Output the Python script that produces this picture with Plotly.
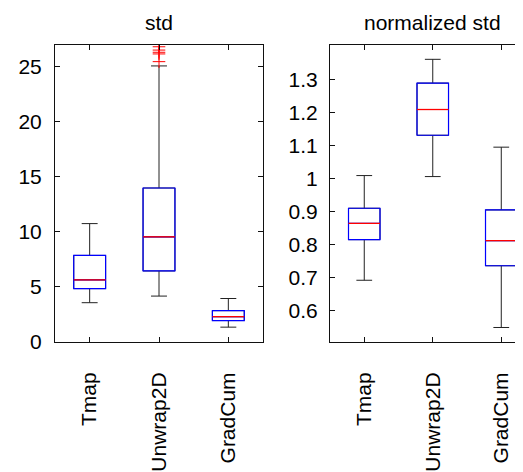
import plotly.graph_objects as go

categories = ["Tmap", "Unwrap2D", "GradCum"]
positions = [1, 2, 3]

# panel 1: std
std_low = [3.57, 4.17, 1.35]
std_q1 = [4.85, 6.45, 1.95]
std_med = [5.65, 9.55, 2.30]
std_q3 = [7.86, 13.98, 2.85]
std_high = [10.75, 25.06, 3.95]
std_outliers = [25.45, 26.15, 26.3, 26.5, 26.8]

# panel 2: normalized std
nstd_low = [0.692, 1.006, 0.549]
nstd_q1 = [0.815, 1.131, 0.736]
nstd_med = [0.864, 1.209, 0.812]
nstd_q3 = [0.910, 1.289, 0.905]
nstd_high = [1.009, 1.361, 1.095]

left_ticks = [0, 5, 10, 15, 20, 25]
right_ticks = [0.6, 0.7, 0.8, 0.9, 1.0, 1.1, 1.2, 1.3]
right_ticktext = ["0.6", "0.7", "0.8", "0.9", "1", "1.1", "1.2", "1.3"]

FONT = "Liberation Sans, Arial, Helvetica, sans-serif"
BW = 0.46

fig = go.Figure()


def add_panel(xa, ya, low, q1, med, q3, high):
    common = dict(x=positions, xaxis=xa, yaxis=ya, width=BW, whiskerwidth=0.5,
                  fillcolor="rgba(0,0,0,0)", showlegend=False, hoverinfo="skip",
                  boxpoints=False)
    # whiskers (black)
    fig.add_trace(go.Box(q1=q1, median=med, q3=q3, lowerfence=low, upperfence=high,
                         line=dict(color="#222222", width=1), **common))
    # box (blue)
    fig.add_trace(go.Box(q1=q1, median=med, q3=q3, lowerfence=q1, upperfence=q3,
                         line=dict(color="#0000ff", width=1.2), **common))
    # median (red)
    mx, my = [], []
    for p, m in zip(positions, med):
        mx += [p - BW / 2, p + BW / 2, None]
        my += [m, m, None]
    fig.add_trace(go.Scatter(x=mx, y=my, mode="lines", xaxis=xa, yaxis=ya,
                             line=dict(color="#ff0000", width=1.3),
                             showlegend=False, hoverinfo="skip"))


add_panel("x", "y", std_low, std_q1, std_med, std_q3, std_high)
add_panel("x2", "y2", nstd_low, nstd_q1, nstd_med, nstd_q3, nstd_high)

fig.add_trace(go.Scatter(x=[positions[1]] * len(std_outliers), y=std_outliers,
                         mode="markers", xaxis="x", yaxis="y", showlegend=False,
                         hoverinfo="skip",
                         marker=dict(symbol="cross-thin", size=9, color="red",
                                     line=dict(color="red", width=1))))

W, H = 523, 472
ydom = [(H - 342) / H, (H - 38) / H]

axis_common = dict(showline=True, linecolor="#111111", linewidth=1, ticks="inside",
                   ticklen=5, tickcolor="#111111", showgrid=False, zeroline=False,
                   tickfont=dict(family=FONT, size=21, color="black"))

fig.update_layout(
    width=W, height=H, margin=dict(l=0, r=0, t=0, b=0),
    paper_bgcolor="white", plot_bgcolor="white", boxmode="overlay",
    xaxis=dict(domain=[47 / W, 255 / W], range=[0.5, 3.5], anchor="y",
               mirror="ticks", tickangle=-90, ticklabelstandoff=21,
               tickvals=positions, ticktext=categories, **axis_common),
    yaxis=dict(domain=ydom, range=[0, 26.95], anchor="x", mirror="ticks",
               tickvals=left_ticks, ticklabelstandoff=8, **axis_common),
    xaxis2=dict(domain=[322 / W, 1], range=[0.5, 3.434], anchor="y2",
                mirror="ticks", tickangle=-90, ticklabelstandoff=21,
                tickvals=positions, ticktext=categories, **axis_common),
    yaxis2=dict(domain=ydom, range=[0.505, 1.404], anchor="x2", mirror=False,
                tickvals=right_ticks, ticktext=right_ticktext, ticklabelstandoff=7,
                **axis_common),
    annotations=[
        dict(text="std", x=151 / W, y=(H - 15) / H, xref="paper", yref="paper",
             showarrow=False, xanchor="center", yanchor="middle",
             font=dict(family=FONT, size=21, color="black")),
        dict(text="normalized std", x=424.5 / W, y=(H - 15) / H, xref="paper",
             yref="paper", showarrow=False, xanchor="center", yanchor="middle",
             font=dict(family=FONT, size=21, color="black")),
    ],
)

fig.write_html("out.html")
